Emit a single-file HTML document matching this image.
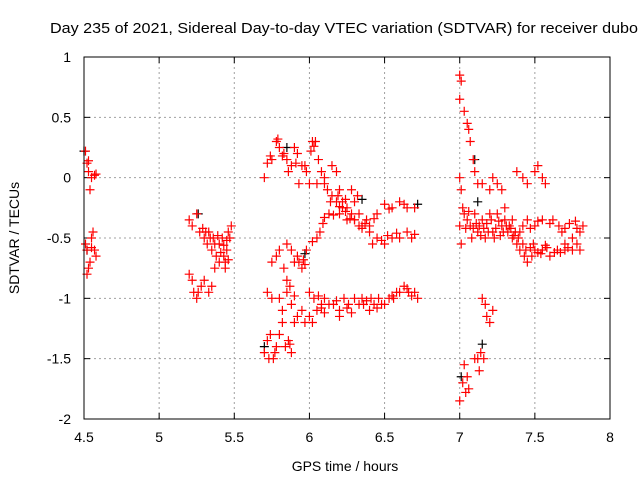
<!DOCTYPE html>
<html><head><meta charset="utf-8"><style>
html,body{margin:0;padding:0;background:#fff}
svg{display:block;font-family:"Liberation Sans",sans-serif}
</style></head><body>
<svg id="chart" width="640" height="480" viewBox="0 0 640 480">
<text x="50" y="33" text-anchor="start" font-size="15" textLength="588" lengthAdjust="spacingAndGlyphs">Day 235 of 2021, Sidereal Day-to-day VTEC variation (SDTVAR) for receiver dubo</text>
<text x="345" y="471" text-anchor="middle" font-size="14">GPS time / hours</text>
<text transform="translate(19,238) rotate(-90)" text-anchor="middle" font-size="14">SDTVAR / TECUs</text>
<g id="grid"></g>
<g id="ticks"></g>
<g id="marks"></g>
<rect x="84" y="57" width="526" height="362" fill="none" stroke="#000" stroke-width="1"/>
</svg>
<script>
const xTicks=[4.5,5,5.5,6,6.5,7,7.5,8];
const xTickLabels=["4.5","5","5.5","6","6.5","7","7.5","8"];
const yTicks=[1,0.5,0,-0.5,-1,-1.5,-2];
const yTickLabels=["1","0.5","0","-0.5","-1","-1.5","-2"];
const redPoints=[
[4.51,0.22],[4.52,0.12],[4.53,0.05],[4.54,-0.1],[4.55,0.0],[4.57,0.02],[4.58,0.03],[4.51,-0.55],[4.52,-0.6],[4.53,-0.75],[4.54,-0.7],[4.55,-0.5],[4.56,-0.45],[4.57,-0.6],[4.58,-0.65],[4.52,-0.8],[4.55,-0.58],[4.53,0.14],
[5.2,-0.8],[5.22,-0.85],[5.23,-0.95],[5.25,-1.0],[5.26,-0.95],[5.2,-0.35],[5.22,-0.4],[5.25,-0.3],[5.27,-0.45],[5.3,-0.5],[5.32,-0.55],[5.33,-0.45],[5.35,-0.6],[5.36,-0.5],[5.38,-0.65],[5.4,-0.55],[5.42,-0.5],[5.44,-0.7],[5.45,-0.6],[5.46,-0.45],[5.47,-0.5],[5.48,-0.4],[5.3,-0.85],[5.33,-0.95],[5.35,-0.9],[5.37,-0.75],[5.4,-0.7],[5.43,-0.65],[5.44,-0.75],[5.46,-0.68],[5.28,-0.9],[5.31,-0.45],[5.34,-0.5],[5.39,-0.48],[5.41,-0.62],[5.45,-0.52],[5.29,-0.42],[5.37,-0.55],[5.43,-0.56],
[5.7,0.0],[5.72,0.12],[5.75,0.15],[5.78,0.3],[5.8,0.25],[5.83,0.2],[5.85,0.15],[5.88,0.1],[5.9,0.25],[5.92,0.2],[5.95,0.1],[5.98,0.05],[6.0,-0.05],[6.02,0.3],[6.04,0.3],[6.06,0.15],[6.08,0.05],[6.1,-0.05],[6.12,-0.1],[6.15,-0.15],[6.18,-0.2],[6.2,-0.3],[6.22,-0.25],[6.25,-0.35],[6.28,-0.3],[6.3,-0.35],[6.33,-0.3],[6.35,-0.4],[6.38,-0.35],[6.4,-0.4],[6.45,-0.3],[6.5,-0.22],[6.55,-0.25],[6.6,-0.2],[6.65,-0.25],[6.7,-0.25],[5.74,0.18],[5.86,0.05],[5.93,-0.05],[5.97,0.1],[6.01,0.22],[5.79,0.32],[5.82,0.18],[5.91,0.12],[6.03,0.26],[6.14,-0.2],[6.27,-0.34],[6.43,-0.34],[6.53,-0.26],[6.63,-0.22],
[6.05,-0.05],[6.1,0.0],[6.15,0.1],[6.18,0.05],[6.2,-0.1],[6.22,-0.2],[6.25,-0.25],[6.28,-0.1],[6.3,-0.2],[6.32,-0.15],[6.19,-0.15],[6.24,-0.18],
[6.02,-0.53],[6.05,-0.5],[6.07,-0.45],[6.1,-0.33],[6.13,-0.3],[6.16,-0.31],[6.2,-0.24],[6.24,-0.28],[6.3,-0.35],[6.35,-0.42],[6.4,-0.45],[6.45,-0.5],[6.5,-0.55],[6.55,-0.5],[6.6,-0.5],[6.65,-0.45],[6.7,-0.47],[6.42,-0.55],[6.48,-0.52],[6.58,-0.46],[6.68,-0.5],[6.09,-0.38],[6.33,-0.4],[6.37,-0.38],[6.52,-0.48],
[5.72,-0.95],[5.75,-0.7],[5.78,-0.65],[5.8,-0.6],[5.83,-0.75],[5.85,-0.55],[5.88,-0.6],[5.9,-0.7],[5.92,-0.65],[5.95,-0.75],[5.97,-0.72],[5.98,-0.6],[5.85,-0.85],[5.87,-0.9],[5.93,-0.7],[5.96,-0.68],
[5.7,-1.45],[5.72,-1.35],[5.74,-1.3],[5.76,-1.5],[5.78,-1.4],[5.8,-1.3],[5.82,-1.2],[5.84,-1.4],[5.86,-1.35],[5.88,-1.45],[5.9,-1.2],[5.92,-1.15],[5.95,-1.1],[5.97,-1.2],[6.0,-1.15],[6.02,-1.2],[6.05,-1.1],[6.08,-1.05],[5.73,-1.5],[5.77,-1.45],[5.87,-1.38],
[5.75,-1.0],[5.8,-1.0],[5.85,-0.95],[5.88,-1.05],[5.9,-0.98],[5.82,-1.1],
[6.0,-0.95],[6.03,-1.0],[6.06,-0.98],[6.1,-1.0],[6.13,-1.05],[6.16,-1.05],[6.2,-1.1],[6.23,-1.0],[6.26,-1.05],[6.3,-1.0],[6.33,-1.05],[6.36,-1.05],[6.4,-1.1],[6.43,-1.05],[6.46,-1.0],[6.5,-1.05],[6.53,-1.0],[6.56,-1.0],[6.6,-0.95],[6.63,-0.9],[6.66,-0.95],[6.7,-0.95],[6.72,-1.0],[6.1,-1.12],[6.2,-1.15],[6.35,-1.0],[6.48,-1.05],[6.55,-0.98],[6.65,-0.92],[6.25,-1.08],[6.38,-1.02],[6.45,-1.08],[6.08,-1.08],[6.18,-1.02],[6.28,-1.12],[6.41,-1.0],[6.58,-0.95],[6.68,-0.98],
[7.0,0.85],[7.01,0.8],[7.0,0.65],[7.03,0.55],[7.05,0.45],[7.06,0.4],[7.07,0.3],[7.09,0.15],[7.1,0.05],[7.12,-0.05],[7.0,0.0],[7.01,-0.1],[7.02,-0.25],[7.0,-0.4],[7.01,-0.55],[7.03,-0.3],[7.05,-0.35],[7.07,-0.4],[7.08,-0.5],[7.1,-0.3],[7.12,-0.45],[7.15,-0.35],[7.17,-0.5],[7.2,-0.3],[7.22,-0.45],[7.25,-0.3],[7.28,-0.4],[7.3,-0.35],[7.32,-0.45],[7.35,-0.5],[7.38,-0.55],[7.4,-0.6],[7.43,-0.65],[7.45,-0.7],[7.48,-0.65],[7.5,-0.6],[7.55,-0.6],[7.6,-0.65],[7.65,-0.6],[7.7,-0.55],[7.75,-0.5],[7.8,-0.45],[7.82,-0.4],[7.8,-0.6],[7.75,-0.6],[7.7,-0.6],[7.68,-0.45],[7.6,-0.38],[7.55,-0.35],[7.5,-0.4],[7.45,-0.35],[7.42,-0.4],[7.4,-0.45],[7.35,-0.35],[7.3,-0.25],[7.28,-0.1],[7.25,-0.05],[7.22,0.0],[7.2,-0.1],[7.15,-0.05],[7.38,0.05],[7.42,0.0],[7.45,-0.05],[7.5,0.05],[7.52,0.1],[7.55,0.0],[7.57,-0.05],
[7.13,-0.4],[7.18,-0.38],[7.23,-0.5],[7.27,-0.48],[7.33,-0.4],[7.37,-0.45],[7.42,-0.55],[7.47,-0.58],[7.52,-0.62],[7.58,-0.58],[7.63,-0.62],[7.72,-0.58],[7.78,-0.55],[7.62,-0.35],[7.66,-0.4],[7.73,-0.38],[7.78,-0.42],[7.52,-0.36],[7.47,-0.42],
[7.11,-0.38],[7.14,-0.48],[7.16,-0.42],[7.19,-0.45],[7.21,-0.35],[7.24,-0.42],[7.26,-0.36],[7.29,-0.45],[7.31,-0.4],[7.34,-0.42],[7.36,-0.48],[7.39,-0.5],[7.44,-0.6],[7.49,-0.55],[7.54,-0.63],[7.57,-0.56],[7.67,-0.62],[7.77,-0.36],[7.7,-0.42],[7.04,-0.42],[7.06,-0.28],[7.09,-0.42],
[7.15,-1.0],[7.17,-1.05],[7.18,-1.15],[7.2,-1.2],[7.22,-1.1],[7.12,-1.5],[7.14,-1.45],[7.16,-1.5],[7.13,-1.6],[7.03,-1.55],[7.05,-1.65],[7.02,-1.7],[7.06,-1.75],[7.0,-1.85],[7.04,-1.78],[7.1,-1.5]
];
const blackPoints=[[4.5,0.22],[4.52,-0.6],[5.26,-0.3],[5.85,0.25],[5.97,-0.63],[6.35,-0.18],[6.72,-0.22],[7.12,-0.2],[7.15,-1.38],[7.1,0.15],[7.01,-1.65],[5.7,-1.4]];

const X0=84,X1=610,Y0=57,Y1=419;
function xs(v){return X0+(v-4.5)/(8-4.5)*(X1-X0);}
function ys(v){return Y0+(1-v)/(1-(-2))*(Y1-Y0);}
const NS='http://www.w3.org/2000/svg';
const grid=document.getElementById('grid'),ticks=document.getElementById('ticks'),marks=document.getElementById('marks');
function mk(tag,attrs,parent){const e=document.createElementNS(NS,tag);for(const k in attrs)e.setAttribute(k,attrs[k]);parent.appendChild(e);return e;}
xTicks.forEach((t,i)=>{
  const x=xs(t);
  if(i>0&&i<xTicks.length-1){const g=mk('line',{x1:x,x2:x,y1:Y0,y2:Y1,stroke:'#a0a0a0','stroke-dasharray':'2,3'},grid);
  
  }
  mk('line',{x1:x,x2:x,y1:Y1,y2:Y1-6,stroke:'#000'},ticks);
  mk('line',{x1:x,x2:x,y1:Y0,y2:Y0+6,stroke:'#000'},ticks);
  const tx=mk('text',{x:x,y:Y1+23,'text-anchor':'middle','font-size':'14'},ticks);
  tx.textContent=xTickLabels[i];
  
  
});
yTicks.forEach((t,i)=>{
  const y=ys(t);
  if(i>0&&i<yTicks.length-1){const g=mk('line',{x1:X0,x2:X1,y1:y,y2:y,stroke:'#a0a0a0','stroke-dasharray':'2,3'},grid);
  
  }
  mk('line',{x1:X0,x2:X0+6,y1:y,y2:y,stroke:'#000'},ticks);
  mk('line',{x1:X1,x2:X1-6,y1:y,y2:y,stroke:'#000'},ticks);
  const tx=mk('text',{x:X0-13,y:y+5,'text-anchor':'end','font-size':'14'},ticks);
  tx.textContent=yTickLabels[i];
  
  
});
function plus(p,color,name){
  const x=xs(p[0]),y=ys(p[1]);
  const e=mk('path',{d:`M${x-4.5},${y}h9M${x},${y-4.5}v9`,stroke:color,'stroke-width':'1.2',fill:'none'},marks);
  
  
}
blackPoints.forEach(p=>plus(p,'#000','black-point'));
redPoints.forEach(p=>plus(p,'#ff0000','red-point'));
</script>
</body></html>
